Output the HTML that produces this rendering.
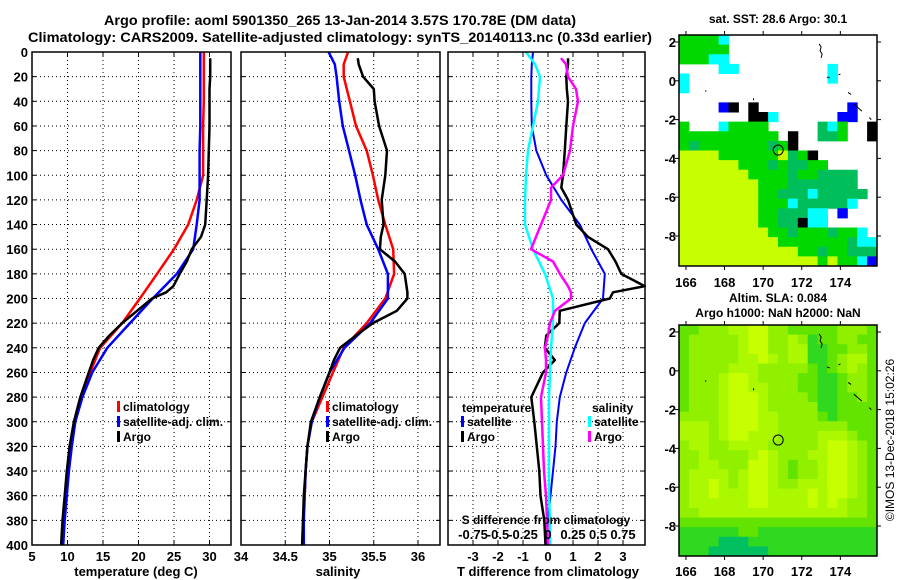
<!DOCTYPE html>
<html><head><meta charset="utf-8"><style>
html,body{margin:0;padding:0;background:#fff}
svg{display:block}
text{font-family:"Liberation Sans",Arial,sans-serif;font-weight:bold;fill:#000}
</style></head><body>
<svg id="fig" width="900" height="580" viewBox="0 0 900 580" xmlns="http://www.w3.org/2000/svg">
<text x="340" y="25" font-size="14" text-anchor="middle" textLength="472" lengthAdjust="spacingAndGlyphs">Argo profile: aoml 5901350_265 13-Jan-2014 3.57S 170.78E (DM data)</text>
<text x="340" y="42" font-size="14" text-anchor="middle" textLength="624" lengthAdjust="spacingAndGlyphs">Climatology: CARS2009. Satellite-adjusted climatology: synTS_20140113.nc (0.33d earlier)</text>
<text x="778" y="23" font-size="12" text-anchor="middle">sat. SST: 28.6 Argo: 30.1</text>
<text x="778" y="302" font-size="12" text-anchor="middle">Altim. SLA: 0.084</text>
<text x="778" y="317" font-size="12" text-anchor="middle">Argo h1000: NaN h2000: NaN</text>
<text x="0" y="0" font-size="12" style="font-weight:normal" text-anchor="middle" transform="translate(894,440) rotate(-90)">©IMOS 13-Dec-2018 15:02:26</text>
</svg>
<script>
// ---------- data ----------
const depths = [0,10,20,40,60,80,100,120,140,160,180,200,220,240,260,280,300,320,340,360,380,400];
const argoDepths = [5,10,20,30,40,60,80,100,110,120,140,150,160,170,180,190,195,200,210,220,230,240,250,260,280,300,320,340,360,380,400];
const tempClim = [29.2,29.2,29.2,29.2,29.1,29.1,29.1,28.2,27.0,25.0,22.6,20.2,17.7,14.6,13.2,12.0,11.0,10.5,10.1,9.8,9.5,9.3];
const tempSat  = [28.7,28.7,28.7,28.7,28.7,28.6,28.6,28.6,28.2,27.7,25.4,22.0,18.8,15.6,13.5,12.1,11.1,10.6,10.2,9.9,9.6,9.4];
const tempArgo = [30.1,30.1,30.1,30.0,30.0,30.0,29.9,29.8,29.7,29.6,29.4,28.8,27.5,26.8,25.8,24.9,23.9,21.9,19.8,17.7,15.9,14.4,13.6,13.0,11.8,10.9,10.3,9.9,9.6,9.3,9.1];
const salClim = [35.21,35.16,35.16,35.23,35.30,35.42,35.49,35.55,35.63,35.72,35.73,35.63,35.42,35.16,35.04,34.92,34.80,34.75,34.73,34.72,34.70,34.70];
const salSat  = [34.99,35.06,35.08,35.11,35.15,35.22,35.29,35.35,35.42,35.55,35.66,35.66,35.46,35.17,35.00,34.89,34.80,34.75,34.73,34.72,34.71,34.71];
const salArgo = [35.32,35.33,35.38,35.50,35.51,35.56,35.65,35.63,35.61,35.59,35.61,35.58,35.57,35.74,35.85,35.87,35.88,35.88,35.76,35.49,35.30,35.12,35.05,35.00,34.89,34.79,34.75,34.73,34.71,34.70,34.69];
const tDiffSat = [-0.6,-0.65,-0.67,-0.67,-0.65,-0.47,-0.07,0.53,1.27,1.73,2.27,2.2,1.47,1.07,0.73,0.47,0.35,0.3,0.2,0.1,0.0,-0.05];
const tDiffArgo = [0.8,0.8,0.73,0.75,0.8,0.73,0.67,0.6,0.53,0.8,1.13,1.6,2.4,2.7,2.93,3.87,2.6,2.47,0.47,0.45,-0.07,-0.13,0.27,-0.2,-0.67,-0.55,-0.45,-0.35,-0.3,-0.15,-0.1];
const sDiffSat = [-0.22,-0.13,-0.08,-0.1,-0.15,-0.2,-0.22,-0.23,-0.23,-0.15,-0.03,0.05,0.05,0.03,0.02,0.01,0.01,0.01,0.01,0.01,0.02,0.02];
const sDiffArgo = [0.13,0.18,0.2,0.28,0.3,0.25,0.22,0.15,0.03,0.03,-0.07,-0.12,-0.17,0.05,0.12,0.2,0.23,0.23,0.07,0.02,0,-0.03,-0.02,-0.02,-0.07,-0.06,-0.05,-0.04,-0.02,-0.01,0];
const depthTicks = [0,20,40,60,80,100,120,140,160,180,200,220,240,260,280,300,320,340,360,380,400];
const tempTicks = [5,10,15,20,25,30];
const salTicks = [34,34.5,35,35.5,36];
const tDiffTicks = [-3,-2,-1,0,1,2,3];
const sDiffTickLabels = ["-0.75","-0.5","-0.25","0","0.25","0.5","0.75"];
const sDiffTicks = [-0.75,-0.5,-0.25,0,0.25,0.5,0.75];
const sstGrid = [
"ggggc...............",
"ggggg...............",
"gggcc...............",
"....cc.........c....",
"c..............c....",
"c...................",
"....................",
"....bk.k.........b..",
".......kkc......bb..",
"g...cgggg.....dcg..k",
"gggggggggg.k..ddg..k",
"gdgggggggdgk........",
"yyyyggggggydgk......",
"yyyyyygggdgddgg.....",
"yyyyyyyggggdggdddd..",
"yyyyyyyygggddddddd..",
"yyyyyyyyggdddcddddd.",
"yyyyyyyygggcdddddc..",
"yyyyyyyyggdddcc.b...",
"yyyyyyyyggddkcc.....",
"yyyyyyyyyggdgggdggc.",
"yyyyyyyyyygggggggdcc",
"yyyyyyyyyyyyggdggddd",
"yyyyyyyyyyyyyygyggcb"];
const slaGrid = [
"GGMMMLLYYMMGGGGGMMMG",
"GMMMMMLYYMMLMDGGMMGG",
"GMMMMMLYYMMLLDDGGMMG",
"GMMMMMLLYLMLLDDGMLLG",
"GMMMMLLLMMMMMGDGMLMG",
"GMMMLYYLMMMMGGDDGMMG",
"GMMMLYYLLMMMGGDDGMMG",
"GMMMLYYYLMMMMGDDGGMG",
"GMMMLYYYLMMMMMDDGGGG",
"MMMMLYYYLLMMMMGDGGGG",
"LLLMLYYYLLMMMMMMMGGG",
"LLLMLYYLLLMMMMLLLMGG",
"MLLMMLLLLMMMMMLYYLMG",
"MMLMMMMLYLMMMLLYYLMG",
"MMLLMMMYYLMGMMLYYLMG",
"MLLLLMLYYLMGMMLYYLMG",
"MLLYLMLYYLMMLLLYYLMG",
"MLLYLLLYYLLLLYLYYLMG",
"MLLLLLLYYLLLLYLYLMMG",
"MMLLLLLLLLLLLLLLLMMG",
"GGGGGGGGGGGGGGGGGGGG",
"DDDDDDGGDDDDDDDDDDDD",
"DDDDTTTDDDDDDDDDDDDD",
"DDDTTTTTTDDDDDDDDDDD"];
const lonTicks = [166,168,170,172,174];
const latTicks = [2,0,-2,-4,-6,-8];
const argoLon = [170.78];
const argoLat = [-3.57];

// ---------- drawing ----------
const NS = "http://www.w3.org/2000/svg";
const svg = document.getElementById('fig');
function mk(tag, attrs, parent){ const e=document.createElementNS(NS,tag); for(const k in attrs) e.setAttribute(k,attrs[k]); (parent||svg).appendChild(e); return e; }
const Y0=52, Y1=545;
const yScale = d => Y0 + d*(Y1-Y0)/400;

function panel(name, x0, x1, vmin, vmax, ticks, showDepthLabels){
  const xs = v => x0 + (v-vmin)*(x1-x0)/(vmax-vmin);
  const g = mk('g',{});
  
  
  depthTicks.forEach(d=>{
    if(d===0||d===400) return;
    const l = mk('line',{x1:x0,x2:x1,y1:yScale(d),y2:yScale(d),stroke:'#000','stroke-width':1,'stroke-dasharray':'1,3'},g);
    
    
    mk('line',{x1:x0,x2:x0+4,y1:yScale(d),y2:yScale(d),stroke:'#000'},g);
    mk('line',{x1:x1-4,x2:x1,y1:yScale(d),y2:yScale(d),stroke:'#000'},g);
  });
  ticks.forEach(v=>{
    const x = xs(v);
    if(x<=x0+1||x>=x1-1) return;
    const l = mk('line',{x1:x,x2:x,y1:Y0,y2:Y1,stroke:'#000','stroke-width':1,'stroke-dasharray':'1,3'},g);
    
    
    mk('line',{x1:x,x2:x,y1:Y1-4,y2:Y1,stroke:'#000'},g);
    mk('line',{x1:x,x2:x,y1:Y0,y2:Y0+4,stroke:'#000'},g);
  });
  if(showDepthLabels){
    depthTicks.forEach(d=>{
      const t = mk('text',{x:28,y:yScale(d)+5,'font-size':13,'text-anchor':'end'},g);
      t.textContent = d;
      
      
    });
  }
  return {g, xs};
}
function frame(g,x0,x1){
  const r = mk('rect',{x:x0,y:Y0,width:x1-x0,height:Y1-Y0,fill:'none',stroke:'#000','stroke-width':1.5},g);
  
  
}
function line(g, xs, vals, ds, color, name, w){
  const pts = vals.map((v,i)=>xs(v).toFixed(1)+','+yScale(ds[i]).toFixed(1)).join(' ');
  const p = mk('polyline',{points:pts,fill:'none',stroke:color,'stroke-width':w||2.5,'stroke-linejoin':'round'},g);
  
  
}
function xlabels(g, xs, ticks, labels, y){
  ticks.forEach((v,i)=>{
    const t = mk('text',{x:xs(v),y:y,'font-size':13,'text-anchor':'middle'},g);
    t.textContent = labels ? labels[i] : v;
    
    
  });
}
function legend(g, x, y, items){
  items.forEach((it,i)=>{
    const yy = y + i*15;
    if(it.color){
      const b = mk('rect',{x:x,y:yy-10,width:3,height:11,fill:it.color},g);
      
      
    }
    const t = mk('text',{x:x+(it.color?6:0),y:yy,'font-size':12},g);
    t.textContent = it.label;
    
    
  });
}

{
  const x0=32,x1=231;
  const {g,xs} = panel('temperature-panel', x0, x1, 5, 5+(x1-x0)/7.1, tempTicks, true);
  line(g,xs,tempClim,depths,'#ff0000','temp-clim-line');
  line(g,xs,tempSat,depths,'#0000ff','temp-sat-line');
  line(g,xs,tempArgo,argoDepths,'#000','temp-argo-line');
  frame(g,x0,x1);
  xlabels(g,xs,tempTicks,null,561);
  const t=mk('text',{x:136,y:576,'font-size':13,'text-anchor':'middle'},g); t.textContent='temperature (deg C)';
  
  
  legend(g,117,411,[{label:'climatology',color:'#ff0000'},{label:'satellite-adj. clim.',color:'#0000ff'},{label:'Argo',color:'#000'}]);
}
{
  const x0=241,x1=440;
  const {g,xs} = panel('salinity-panel', x0, x1, 34, 34+(x1-x0)/88.5, salTicks, false);
  line(g,xs,salClim,depths,'#ff0000','sal-clim-line');
  line(g,xs,salSat,depths,'#0000ff','sal-sat-line');
  line(g,xs,salArgo,argoDepths,'#000','sal-argo-line');
  frame(g,x0,x1);
  xlabels(g,xs,salTicks,null,561);
  const t=mk('text',{x:338,y:576,'font-size':13,'text-anchor':'middle'},g); t.textContent='salinity';
  
  
  legend(g,326,411,[{label:'climatology',color:'#ff0000'},{label:'satellite-adj. clim.',color:'#0000ff'},{label:'Argo',color:'#000'}]);
}
{
  const x0=448,x1=645, zero=548, tpx=25;
  const {g,xs} = panel('difference-panel', x0, x1, (x0-zero)/tpx, (x1-zero)/tpx, tDiffTicks, false);
  const ss = v => zero + v*100;
  line(g,xs,tDiffSat,depths,'#0000ff','tdiff-sat-line',2);
  line(g,xs,tDiffArgo,argoDepths,'#000','tdiff-argo-line',2.5);
  line(g,ss,sDiffSat,depths,'#00ffff','sdiff-sat-line',2.5);
  line(g,ss,sDiffArgo,argoDepths,'#ff00ff','sdiff-argo-line',2.5);
  frame(g,x0,x1);
  xlabels(g,xs,tDiffTicks,null,561);
  const t=mk('text',{x:548,y:576,'font-size':13,'text-anchor':'middle'},g); t.textContent='T difference from climatology';
  
  
  const s=mk('text',{x:546,y:524,'font-size':12,'text-anchor':'middle'},g); s.textContent='S difference from climatology';
  
  
  xlabels(g,ss,sDiffTicks,sDiffTickLabels,539);
  legend(g,462,412,[{label:'temperature'}]);
  legend(g,461,426,[{label:'satellite',color:'#0000ff'},{label:'Argo',color:'#000'}]);
  legend(g,592,412,[{label:'salinity'}]);
  legend(g,588,426,[{label:'satellite',color:'#00ffff'},{label:'Argo',color:'#ff00ff'}]);
}

const sstColors = {g:'#00d800',y:'#c8ff00',d:'#00bf5a',c:'#00ffff',b:'#0000ff',k:'#000000'};
const slaColors = {Y:'#c8ff00',L:'#acf800',M:'#90f000',G:'#62e400',D:'#30d820',T:'#00c060'};
function map(name, grid, colors, mx0, my0, mx1, my1, lat2y, labY){
  const lonS = lon => mx0 + (lon-165.64)*19.3;
  const latS = lat => lat2y + (2-lat)*19.4;
  const g = mk('g',{});
  
  
  const rows = grid.length, cols = grid[0].length;
  const cw=(mx1-mx0)/cols, ch=(my1-my0)/rows;
  grid.forEach((row,r)=>{
    for(let c=0;c<cols;c++){
      const col = colors[row[c]];
      if(!col) continue;
      const rc = mk('rect',{x:(mx0+c*cw).toFixed(2),y:(my0+r*ch).toFixed(2),width:(cw+0.5).toFixed(2),height:(ch+0.5).toFixed(2),fill:col},g);
      
      
    }
  });
  const coast = mk('path',{d:`M${lonS(172.9)},${latS(1.9)} l2,3 -1,4 2,3 -1,4 M${lonS(173.3)},${latS(0.2)} l3,1 M${lonS(173.9)},${latS(0.3)} l2,-1 M${lonS(174.4)},${latS(-0.6)} l3,2 M${lonS(174.7)},${latS(-1.2)} l8,7 M${lonS(175.5)},${latS(-1.9)} l2,2 M${lonS(167)},${latS(-0.55)} l1,-1 M${lonS(169.5)},${latS(-0.9)} l0,2`,stroke:'#000',fill:'none','stroke-width':1},g);
  
  
  const circ = mk('circle',{cx:lonS(argoLon[0]),cy:latS(argoLat[0]),r:5,fill:'none',stroke:'#000','stroke-width':1},g);
  
  
  const fr = mk('rect',{x:mx0,y:my0,width:mx1-mx0,height:my1-my0,fill:'none',stroke:'#000','stroke-width':1.5},g);
  
  
  lonTicks.forEach(v=>{
    const x=lonS(v);
    mk('line',{x1:x,x2:x,y1:my0,y2:my0-4,stroke:'#000'},g);
    mk('line',{x1:x,x2:x,y1:my1,y2:my1+4,stroke:'#000'},g);
    const t=mk('text',{x:x,y:labY,'font-size':13,'text-anchor':'middle'},g); t.textContent=v;
    
    
  });
  latTicks.forEach(v=>{
    const y=latS(v);
    mk('line',{x1:mx0,x2:mx0-4,y1:y,y2:y,stroke:'#000'},g);
    mk('line',{x1:mx1,x2:mx1+4,y1:y,y2:y,stroke:'#000'},g);
    const t=mk('text',{x:676,y:y+5,'font-size':13,'text-anchor':'end'},g); t.textContent=v;
    
    
  });
}
map('sst-map', sstGrid, sstColors, 679, 35, 877, 266, 42, 287);
map('sla-map', slaGrid, slaColors, 679, 325, 877, 556, 332, 576);
</script>
</body></html>
